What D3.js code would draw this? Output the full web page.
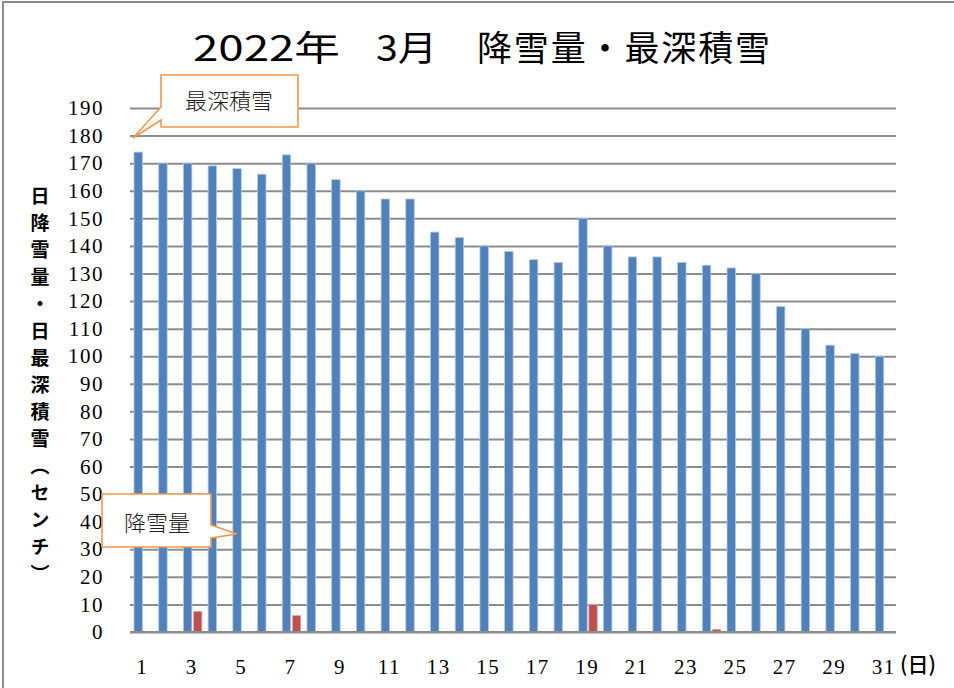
<!DOCTYPE html>
<html>
<head>
<meta charset="utf-8">
<script src="https://cdn.jsdelivr.net/npm/d3@7"></script>
<style>
  body { margin: 0; background: #fff; }
  svg { display: block; }
</style>
</head>
<body>
<script>
var w = 954; // Width of the page
var h = 688; // Height of the page

// Days of March 2022
var days = [1, 2, 3, 4, 5, 6, 7, 8, 9, 10, 11, 12, 13, 14, 15, 16,
            17, 18, 19, 20, 21, 22, 23, 24, 25, 26, 27, 28, 29, 30, 31];

// Deepest snow depth per day (cm)
var depth = [174, 170, 170, 169, 168, 166, 173, 170, 164, 160, 157, 157, 145, 143, 140, 138,
             135, 134, 150, 140, 136, 136, 134, 133, 132, 130, 118, 110, 104, 101, 100];

// Daily snowfall (cm)
var snowfall = [0, 0, 7.5, 0, 0, 0, 6, 0, 0, 0, 0, 0, 0, 0, 0, 0,
                0, 0, 10, 0, 0, 0, 0, 1, 0, 0, 0, 0, 0, 0, 0];

// Axis tick labels
var yTicks = [0, 10, 20, 30, 40, 50, 60, 70, 80, 90, 100, 110, 120, 130, 140, 150, 160, 170, 180, 190];
var xTickDays = [1, 3, 5, 7, 9, 11, 13, 15, 17, 19, 21, 23, 25, 27, 29, 31];

var seriesKeys = ["depth", "snowfall"];
var colors = { depth: "#4f81bd", snowfall: "#c0504d" };
var edges = { depth: "#b3c8e3", snowfall: "#e3b3b2" };

var rows = days.map(function(d, i) {
    return { day: d, depth: depth[i], snowfall: snowfall[i] };
});

var serif = "'Liberation Serif', 'DejaVu Serif', serif";
var gothic = "'Noto Sans CJK JP', 'Noto Sans', sans-serif";

// Scales
var xScale = d3.scaleBand()
    .domain(days)
    .range([130, 896]);

var xSub = d3.scaleBand()
    .domain(seriesKeys)
    .range([4, 22.5])
    .paddingInner(0.16);

var yScale = d3.scaleLinear()
    .domain([0, 190])
    .range([632, 108]);

var svg = d3.select("body")
    .append("svg")
    .attr("width", w)
    .attr("height", h);

// Outer frame
svg.append("rect")
    .attr("x", 3)
    .attr("y", 2)
    .attr("width", w + 20)
    .attr("height", h + 20)
    .attr("fill", "#fff")
    .attr("stroke", "#8c8c8c")
    .attr("stroke-width", 2);

// Title
var title = svg.append("text")
    .attr("y", 61)
    .attr("font-family", gothic)
    .attr("font-size", 35)
    .attr("font-weight", 400)
    .attr("fill", "#000");
title.append("tspan").attr("x", 193).attr("textLength", 147).attr("lengthAdjust", "spacingAndGlyphs").text("2022年");
title.append("tspan").attr("x", 376).attr("textLength", 61).attr("lengthAdjust", "spacingAndGlyphs").text("3月");
title.append("tspan").attr("x", 477).attr("textLength", 293).attr("lengthAdjust", "spacing").text("降雪量・最深積雪");

// Gridlines (y axis without domain line)
var yAxis = d3.axisLeft(yScale)
    .tickValues(yTicks)
    .tickSize(-(xScale.range()[1] - xScale.range()[0]))
    .tickPadding(26)
    .tickFormat(d3.format("d"));

var gy = svg.append("g")
    .attr("class", "y-axis")
    .attr("transform", "translate(" + xScale.range()[0] + ",0)")
    .call(yAxis);

gy.select(".domain").remove();
gy.selectAll(".tick line")
    .attr("stroke", "#8c8c8c")
    .attr("stroke-width", 2);
gy.selectAll(".tick text")
    .attr("font-family", serif)
    .attr("font-size", 21)
    .attr("letter-spacing", 1.5)
    .attr("fill", "#000");

// Bars
var groups = svg.append("g")
    .selectAll("g")
    .data(rows)
    .join("g")
    .attr("transform", function(d) { return "translate(" + xScale(d.day) + ",0)"; });

groups.selectAll("rect")
    .data(function(d) {
        return seriesKeys.map(function(k) { return { key: k, value: d[k] }; });
    })
    .join("rect")
    .filter(function(d) { return d.value > 0; })
    .attr("x", function(d) { return xSub(d.key); })
    .attr("y", function(d) { return yScale(d.value); })
    .attr("width", xSub.bandwidth())
    .attr("height", function(d) { return yScale(0) - yScale(d.value); })
    .attr("fill", function(d) { return colors[d.key]; })
    .attr("stroke", function(d) { return edges[d.key]; })
    .attr("stroke-width", 0.8);

// Baseline over the bars' feet
svg.append("line")
    .attr("x1", xScale.range()[0])
    .attr("x2", xScale.range()[1])
    .attr("y1", yScale(0))
    .attr("y2", yScale(0))
    .attr("stroke", "#8c8c8c")
    .attr("stroke-width", 2);

// X axis labels (odd days only)
var xAxis = d3.axisBottom(xScale)
    .tickValues(xTickDays)
    .tickSize(0)
    .tickPadding(27);

var gx = svg.append("g")
    .attr("class", "x-axis")
    .attr("transform", "translate(0," + yScale(0) + ")")
    .call(xAxis);

gx.select(".domain").remove();
gx.selectAll(".tick text")
    .attr("font-family", serif)
    .attr("font-size", 21)
    .attr("letter-spacing", 1.5)
    .attr("fill", "#000");

// Unit label after the last day
svg.append("text")
    .attr("x", 900)
    .attr("y", 672)
    .attr("font-family", gothic)
    .attr("font-size", 21)
    .attr("font-weight", 500)
    .attr("fill", "#000")
    .text("(日)");

// Y axis title (vertical)
svg.append("text")
    .attr("x", 40)
    .attr("y", 186)
    .attr("font-family", gothic)
    .attr("font-size", 19)
    .attr("font-weight", 700)
    .attr("fill", "#000")
    .style("writing-mode", "vertical-rl")
    .style("letter-spacing", "8px")
    .text("日降雪量・日最深積雪（センチ）");

// Callouts
var orange = "#f79646";

svg.append("path")
    .attr("d", "M161,75 H298 V127 H161 V120 L133,138 L161,107 Z")
    .attr("fill", "#fff")
    .attr("stroke", orange)
    .attr("stroke-width", 1.6);

svg.append("text")
    .attr("x", 229)
    .attr("y", 109)
    .attr("text-anchor", "middle")
    .attr("font-family", gothic)
    .attr("font-size", 22)
    .attr("font-weight", 300)
    .attr("fill", "#222")
    .text("最深積雪");

svg.append("path")
    .attr("d", "M102,494 H211 V525 L237,534 L211,538 V547 H102 Z")
    .attr("fill", "#fff")
    .attr("stroke", orange)
    .attr("stroke-width", 1.6);

svg.append("text")
    .attr("x", 157)
    .attr("y", 531)
    .attr("text-anchor", "middle")
    .attr("font-family", gothic)
    .attr("font-size", 22)
    .attr("font-weight", 300)
    .attr("fill", "#222")
    .text("降雪量");
</script>
</body>
</html>
